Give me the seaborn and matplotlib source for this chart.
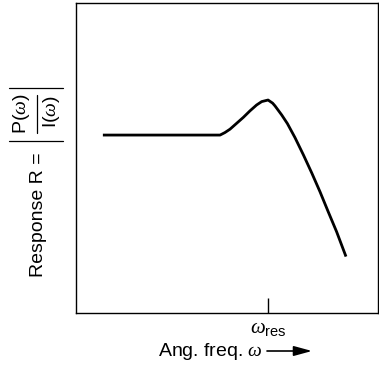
import matplotlib
matplotlib.use("Agg")
import matplotlib.pyplot as plt
from matplotlib.lines import Line2D
from matplotlib.patches import FancyArrowPatch
import seaborn as sns
import pandas as pd

# Frequency response curve (arbitrary units)
omega = [0.89, 4.77, 4.93, 5.10, 5.32, 5.54, 5.76, 5.98, 6.15, 6.36, 6.51,
         6.59, 6.81, 7.00, 7.25, 7.53, 7.81, 8.08, 8.35, 8.63, 8.94]
response = [5.74, 5.74, 5.82, 5.93, 6.12, 6.31, 6.52, 6.71, 6.82, 6.87, 6.77,
            6.68, 6.39, 6.11, 5.66, 5.10, 4.51, 3.91, 3.27, 2.62, 1.82]
omega_res = 6.36
tick_label = r"$\omega_{\mathrm{res}}$"

sns.set_theme(style="white")
plt.rcParams["font.family"] = ["Liberation Sans", "DejaVu Sans"]
plt.rcParams["mathtext.fontset"] = "custom"
plt.rcParams["mathtext.rm"] = "Liberation Sans"
plt.rcParams["mathtext.it"] = "Liberation Serif:italic"
plt.rcParams["mathtext.bf"] = "Liberation Sans:bold"
plt.rcParams["text.color"] = "black"
plt.rcParams["axes.labelcolor"] = "black"
plt.rcParams["xtick.color"] = "black"
plt.rcParams["xtick.labelcolor"] = "black"

W, H = 379, 366


def fx(px):
    return px / W


def fy(py):
    return 1 - py / H


df = pd.DataFrame({"omega": omega, "response": response})

fig = plt.figure(figsize=(W / 100, H / 100), dpi=100)
ax = fig.add_axes([fx(76), fy(313), fx(378) - fx(76), fy(3) - fy(313)])

sns.lineplot(data=df, x="omega", y="response", sort=False, color="black",
             linewidth=2.0, ax=ax, solid_joinstyle="round", solid_capstyle="butt")

ax.set_xlim(0, 10)
ax.set_ylim(0, 10)
for s in ax.spines.values():
    s.set_color("black")
    s.set_linewidth(1.0)

ax.set_xticks([omega_res])
ax.set_xticklabels([tick_label], fontsize=15)
ax.set_yticks([])
ax.tick_params(axis="x", direction="in", length=10.5, width=1.0, color="black",
               labelcolor="black", pad=4, bottom=True)
ax.set_xlabel("")
ax.set_ylabel("")

# y-axis caption: Response R = |P(w) / I(w)|
fig.text(fx(43), fy(277), "Response R =", fontsize=14, rotation=90,
         rotation_mode="anchor", ha="left", va="baseline")
fig.text(fx(22), fy(114), r"P($\omega$)", fontsize=14, rotation=90,
         rotation_mode="anchor", ha="center", va="center")
fig.text(fx(51), fy(112), r"I($\omega$)", fontsize=14, rotation=90,
         rotation_mode="anchor", ha="center", va="center")
for xs, ys in [((fx(36.7), fx(36.7)), (fy(95), fy(133))),
               ((fx(9), fx(63)), (fy(87.5), fy(87.5))),
               ((fx(9), fx(63)), (fy(141), fy(141)))]:
    fig.add_artist(Line2D(xs, ys, transform=fig.transFigure, color="black",
                          linewidth=0.9))

# x-axis caption with direction arrow
fig.text(fx(263), fy(355.5), r"Ang. freq. $\omega$", fontsize=14,
         ha="right", va="baseline")
fig.add_artist(FancyArrowPatch(
    (fx(267), fy(351)), (fx(312), fy(351)), transform=fig.transFigure,
    arrowstyle="-|>,head_length=1.1,head_width=0.3", mutation_scale=10,
    shrinkA=0, shrinkB=0, color="black", linewidth=1.2))

fig.savefig("out.png", dpi=100)
